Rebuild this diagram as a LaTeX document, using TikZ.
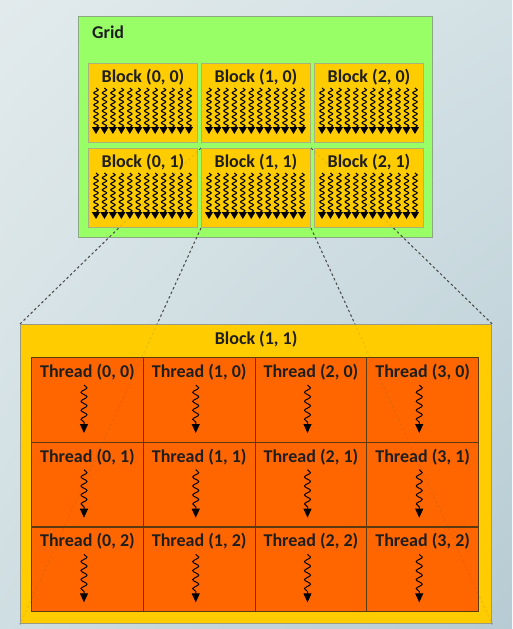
\documentclass[tikz,border=0pt]{standalone}
\usepackage{fontspec}
\setmainfont{Carlito}
\usetikzlibrary{positioning}
\usetikzlibrary{arrows.meta}
\usetikzlibrary{decorations.pathmorphing}
\usetikzlibrary{calc}
\usetikzlibrary{shadings}
\pgfdeclarelayer{bg}
\pgfdeclarelayer{mid}
\pgfsetlayers{bg,mid,main}
\definecolor{bgtl}{HTML}{E2EAEC}
\definecolor{bgtr}{HTML}{D3E1E5}
\definecolor{bgbl}{HTML}{CFDEE2}
\definecolor{bgbr}{HTML}{B6CBD3}
\definecolor{gridgreen}{HTML}{99FF66}
\definecolor{gridline}{HTML}{8AA884}
\definecolor{blkyellow}{HTML}{FFCC00}
\definecolor{blkline}{HTML}{A9B27A}
\definecolor{bigline}{HTML}{9A9A84}
\definecolor{throrange}{HTML}{FF6600}
\definecolor{thrline}{HTML}{5C3A10}
\definecolor{linegray}{HTML}{4A4A4A}
\definecolor{textgray}{HTML}{1E1E1E}

\begin{document}
\begin{tikzpicture}[x=1pt, y=-1pt,
	box/.style = {draw, rectangle, inner sep=0pt, anchor=north west},
	lbl/.style = {font=\fontsize{18}{20}\selectfont\bfseries, text=textgray, inner sep=0pt},
	blk/.style = {box, draw=blkline, line width=1pt, fill=blkyellow, minimum width=109pt, minimum height=79pt},
	thr/.style = {box, draw=thrline, line width=1.2pt, fill=throrange, minimum width=111.75pt, minimum height=84.67pt},
	wig/.style = {decorate, line width=1.1pt, decoration={snake, amplitude=2.2pt, segment length=6pt, post length=5pt}, -{Triangle[width=8pt,length=7pt]}},
	twig/.style = {decorate, line width=1pt, decoration={snake, amplitude=3pt, segment length=9pt, post length=7pt}, -{Triangle[width=8pt,length=9pt]}},
	link/.style = {draw=linegray, dash pattern=on 2.5pt off 2.5pt, line width=1pt}]
	\useasboundingbox (0,0) rectangle (512,629);

	\begin{pgfonlayer}{bg}
	\shade[upper left=bgtl, upper right=bgtr, lower left=bgbl, lower right=bgbr] (0,0) rectangle (512,629);
	\node[box, draw=gridline, line width=1.2pt, fill=gridgreen, minimum width=354pt, minimum height=221pt] (grid) at (78,16) {};
	\node[lbl, below right=10pt and 14pt of grid.north west] {Grid};
	\end{pgfonlayer}

	% blocks of the grid
	\foreach \i in {0,1,2}
	\foreach \j in {0,1} {
		\node[blk] (b\i\j) at (88+113*\i, 63+85*\j) {};
		\node[lbl, below=6pt of b\i\j.north] {Block (\i, \j)};
		\foreach \k in {0,...,11}
			\draw[wig] ($(b\i\j.north west)+(8+8.45*\k,25)$) -- ++(0,46);
	}

	% block (1, 1) in detail
	\node[box, draw=bigline, line width=1.2pt, fill=blkyellow, minimum width=471pt, minimum height=299pt] (big) at (20,324) {};
	\node[lbl, below=7pt of big.north] {Block (1, 1)};
	\foreach \i in {0,...,3}
	\foreach \j in {0,1,2} {
		\node[thr] (t\i\j) at (31+111.75*\i, 357+84.67*\j) {};
		\node[lbl, below=7pt of t\i\j.north] {Thread (\i, \j)};
		\draw[twig] ($(t\i\j.north west)+(53,28)$) -- ++(0,48);
	}

	\begin{pgfonlayer}{mid}
	\foreach \c in {north west, north east, south west, south east}
		\draw[link] (b11.\c) -- (big.\c);
	\end{pgfonlayer}
	\foreach \c in {north west, north east, south west, south east}
		\draw[link, draw opacity=.12] (b11.\c) -- (big.\c);
\end{tikzpicture}
\end{document}
